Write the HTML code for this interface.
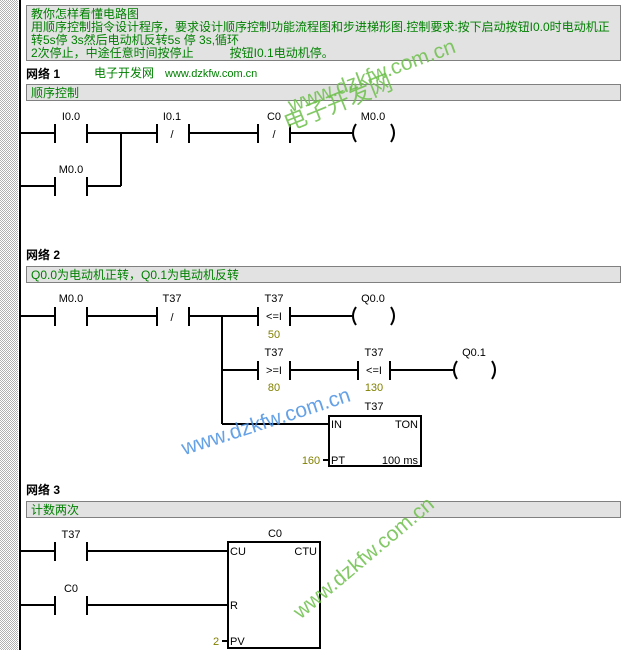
<!DOCTYPE html>
<html><head><meta charset="utf-8"><style>
html,body{margin:0;padding:0;background:#fff;}
svg{display:block;font-family:"Liberation Sans","Noto Sans CJK SC",sans-serif;}
</style></head><body>
<svg width="632" height="650" viewBox="0 0 632 650" xmlns="http://www.w3.org/2000/svg">
<defs><pattern id="dot" width="2" height="2" patternUnits="userSpaceOnUse"><rect width="2" height="2" fill="#fff"/><rect width="1" height="1" fill="#b0b0b0"/><rect x="1" y="1" width="1" height="1" fill="#b0b0b0"/></pattern></defs>
<rect x="0" y="0" width="18" height="650" fill="url(#dot)"/>
<rect x="19" y="0" width="2" height="650" fill="#000"/>
<g font-size="12" fill="#008000">
<rect x="26.5" y="5.5" width="594" height="55" fill="#e2e2e2" stroke="#808080"/>
<text x="31" y="18">教你怎样看懂电路图</text>
<text x="31" y="31">用顺序控制指令设计程序，要求设计顺序控制功能流程图和步进梯形图.控制要求:按下启动按钮I0.0时电动机正</text>
<text x="31" y="44">转5s停 3s然后电动机反转5s 停 3s,循环</text>
<text x="31" y="57">2次停止，中途任意时间按停止　　　按钮I0.1电动机停。</text>
<rect x="26.5" y="84.5" width="594" height="16" fill="#e2e2e2" stroke="#808080"/>
<text x="31" y="97">顺序控制</text>
<text x="94" y="77">电子开发网</text>
<text x="165" y="77" font-size="11">www.dzkfw.com.cn</text>
<rect x="26.5" y="266.5" width="594" height="16" fill="#e2e2e2" stroke="#808080"/>
<text x="31" y="279">Q0.0为电动机正转，Q0.1为电动机反转</text>
<rect x="26.5" y="501.5" width="594" height="16" fill="#e2e2e2" stroke="#808080"/>
<text x="31" y="514">计数两次</text>
</g>
<g font-size="12" font-weight="bold" fill="#000">
<text x="26" y="78">网络 1</text>
<text x="26" y="259">网络 2</text>
<text x="26" y="494">网络 3</text>
</g>
<g stroke="#000" stroke-width="2" fill="none">
<path d="M21 133H55M55 124V143M87 124V143M87 133H157M157 124V143M189 124V143M189 133H258M258 124V143M290 124V143M290 133H352"/>
<path d="M121 133V186M21 186H55M55 177V196M87 177V196M87 186H121"/>
<path d="M356 124Q350 133 356 142M391 124Q397 133 391 142"/>
<path d="M21 316H55M55 307V326M87 307V326M87 316H157M157 307V326M189 307V326M189 316H258M258 307V326M290 307V326M290 316H352"/>
<path d="M356 307Q350 316 356 325M391 307Q397 316 391 325"/>
<path d="M222 316V424M222 370H258M258 361V380M290 361V380M290 370H358M358 361V380M390 361V380M390 370H453"/>
<path d="M457 361Q451 370 457 379M492 361Q498 370 492 379"/>
<path d="M222 424H329M323 460H329"/>
<rect x="329" y="416" width="92" height="50"/>
<path d="M21 551H55M55 542V561M87 542V561M87 551H228M21 605H55M55 596V615M87 596V615M87 605H228M222 641H228"/>
<rect x="228" y="542" width="92" height="106"/>
</g>
<g font-size="11" fill="#000" text-anchor="middle">
<text x="71" y="120">I0.0</text><text x="172" y="120">I0.1</text><text x="274" y="120">C0</text><text x="373" y="120">M0.0</text>
<text x="172" y="138">/</text><text x="274" y="138">/</text>
<text x="71" y="173">M0.0</text>
<text x="71" y="302">M0.0</text><text x="172" y="302">T37</text><text x="274" y="302">T37</text><text x="373" y="302">Q0.0</text>
<text x="172" y="321">/</text><text x="274" y="320">&lt;=I</text>
<text x="274" y="356">T37</text><text x="374" y="356">T37</text><text x="474" y="356">Q0.1</text>
<text x="274" y="374">&gt;=I</text><text x="374" y="374">&lt;=I</text>
<text x="374" y="410">T37</text>
<text x="71" y="538">T37</text><text x="71" y="592">C0</text><text x="275" y="537">C0</text>
</g>
<g font-size="11" fill="#808000" text-anchor="middle">
<text x="274" y="338">50</text><text x="274" y="391">80</text><text x="374" y="391">130</text>
<text x="311" y="464">160</text><text x="216" y="645">2</text>
</g>
<g font-size="11" fill="#000">
<text x="331" y="428">IN</text><text x="331" y="464">PT</text>
<text x="418" y="428" text-anchor="end">TON</text><text x="418" y="464" text-anchor="end">100 ms</text>
<text x="230" y="555">CU</text><text x="230" y="609">R</text><text x="230" y="645">PV</text>
<text x="317" y="555" text-anchor="end">CTU</text>
</g>
<g font-size="21" fill="#6cbf4a" fill-opacity="0.85" text-anchor="middle">
<text transform="translate(374,82) rotate(-20)">www.dzkfw.com.cn</text>
<text transform="translate(341,110) rotate(-22)" font-size="23">电子开发网</text>
<text transform="translate(368,563) rotate(-40)">www.dzkfw.com.cn</text>
</g>
<g font-size="21" fill="#4a90e2" fill-opacity="0.85" text-anchor="middle">
<text transform="translate(268,428) rotate(-18)">www.dzkfw.com.cn</text>
</g>
</svg>
</body></html>
